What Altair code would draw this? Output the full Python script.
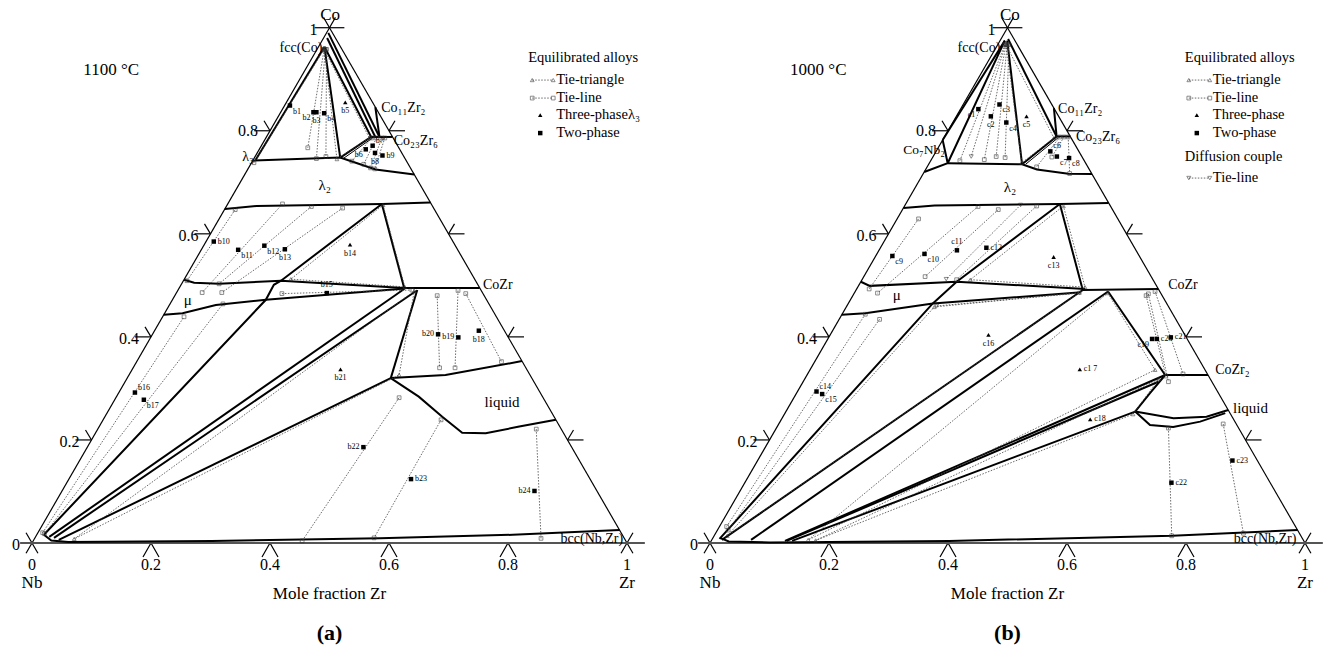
import math
import altair as alt
import pandas as pd

H = math.sqrt(3) / 2
PX = 1 / 595.0                      # one screen pixel in triangle-side units
OFFSET = {"a": 0.0, "b": 678 / 595}  # horizontal shift of each panel
X_DOMAIN = [-32 / 595, (1324 - 32) / 595]
Y_DOMAIN = [-102 / 595, 543 / 595]
FONT = "Liberation Serif"

# ---------------- panel (a) 1100 °C : compositions (x_Zr, x_Co) ----------------
A_BOUNDS = {
    "fcc_l3": [(0.010, 0.963), (0.004, 0.742)],
    "fcc_p": [(0.010, 0.963), (0.144, 0.748)],
    "fcc_c23a": [(0.010, 0.963), (0.176, 0.788)],
    "fcc_c23b": [(0.006, 0.980), (0.183, 0.788)],
    "fcc_c23c": [(0.003, 0.990), (0.190, 0.788)],
    "co11zr2": [(0.154, 0.846), (0.190, 0.788)],
    "co23zr6": [(0.176, 0.788), (0.212, 0.788)],
    "p_c23": [(0.144, 0.748), (0.176, 0.788)],
    "l2_top": [(0.0, 0.742), (0.144, 0.748), (0.175, 0.738), (0.215, 0.725), (0.285, 0.715)],
    "l2_bot": [(0.0, 0.648), (0.05, 0.654), (0.259, 0.658), (0.339, 0.661)],
    "mu_top": [(0.0, 0.511), (0.02, 0.505), (0.063, 0.503), (0.164, 0.509), (0.378, 0.495)],
    "mu_bot": [(0.0, 0.443), (0.03, 0.446), (0.078, 0.462), (0.157, 0.472), (0.380, 0.494)],
    "tri_r": [(0.259, 0.658), (0.378, 0.495)],
    "mu_left": [(0.259, 0.658), (0.164, 0.509), (0.156, 0.501), (0.157, 0.472), (0.012, 0.016)],
    "cozr": [(0.378, 0.495), (0.505, 0.495)],
    "nb1": [(0.023, 0.012), (0.379, 0.493)],
    "nb2": [(0.032, 0.010), (0.401, 0.489)],
    "cozr_liq": [(0.402, 0.491), (0.443, 0.320)],
    "liq_nb": [(0.443, 0.320), (0.042, 0.006)],
    "liq_top": [(0.443, 0.320), (0.532, 0.326), (0.647, 0.353)],
    "liq_bot": [(0.443, 0.320), (0.508, 0.284), (0.567, 0.245), (0.616, 0.214),
                (0.656, 0.213), (0.706, 0.226), (0.761, 0.239)],
    "bcc": [(0.012, 0.016), (0.03, 0.005), (0.06, 0.002), (0.3, 0.004),
            (0.58, 0.009), (0.8, 0.016), (0.975, 0.025)],
}
A_THIN = {"p_c23b": [(0.150, 0.746), (0.180, 0.787)]}
A_TIES = {
    "l3": [(0.012, 0.958), (0.004, 0.738)],
    "b2": [(0.012, 0.958), (0.080, 0.767)],
    "b3": [(0.014, 0.958), (0.105, 0.746)],
    "b4": [(0.016, 0.958), (0.119, 0.750)],
    "b6": [(0.178, 0.786), (0.167, 0.741)],
    "b7": [(0.186, 0.786), (0.190, 0.735)],
    "b8": [(0.195, 0.786), (0.205, 0.728)],
    "b9": [(0.200, 0.786), (0.213, 0.726)],
    "b10": [(0.018, 0.647), (0.006, 0.509)],
    "b11": [(0.092, 0.658), (0.043, 0.486)],
    "b12": [(0.143, 0.653), (0.063, 0.503)],
    "b13": [(0.197, 0.650), (0.076, 0.486)],
    "b15": [(0.178, 0.484), (0.393, 0.491)],
    "b16": [(0.008, 0.020), (0.036, 0.439)],
    "b17": [(0.012, 0.018), (0.089, 0.464)],
    "b18": [(0.487, 0.484), (0.613, 0.352)],
    "b19": [(0.471, 0.490), (0.541, 0.340)],
    "b20": [(0.441, 0.480), (0.515, 0.340)],
    "b22": [(0.476, 0.282), (0.452, 0.004)],
    "b23": [(0.568, 0.239), (0.570, 0.010)],
    "b24": [(0.737, 0.221), (0.851, 0.009)],
}
A_TRIS = {
    "b5": [(0.012, 0.958), (0.140, 0.745), (0.174, 0.786)],
    "b14": [(0.179, 0.512), (0.378, 0.497), (0.262, 0.656)],
    "b21": [(0.067, 0.008), (0.398, 0.489), (0.454, 0.326)],
}
A_DIFF = {}
A_TWO = {"b1": (0.009, 0.849), "b2": (0.055, 0.836), "b3": (0.060, 0.836), "b4": (0.074, 0.834),
         "b6": (0.179, 0.764), "b7": (0.187, 0.771), "b8": (0.198, 0.757), "b9": (0.213, 0.752),
         "b10": (0.013, 0.585), "b11": (0.062, 0.569), "b12": (0.102, 0.577), "b13": (0.140, 0.570),
         "b15": (0.253, 0.485), "b16": (0.027, 0.292), "b17": (0.049, 0.278), "b18": (0.545, 0.412),
         "b19": (0.517, 0.399), "b20": (0.480, 0.405), "b22": (0.464, 0.186), "b23": (0.575, 0.124),
         "b24": (0.794, 0.101)}
A_THREE = {"b5": (0.099, 0.855), "b14": (0.245, 0.579), "b21": (0.350, 0.337)}
A_LABEL_SIDE = {"b1": "rb", "b2": "lb", "b3": "b", "b4": "rb", "b5": "b", "b6": "lb", "b7": "ru",
                "b8": "b", "b9": "r", "b10": "r", "b11": "rb", "b12": "rb", "b13": "b", "b14": "b",
                "b15": "u", "b16": "ru", "b17": "rb", "b18": "b", "b19": "l", "b20": "l", "b21": "b",
                "b22": "l", "b23": "r", "b24": "l"}

# ---------------- panel (b) 1000 °C ----------------
B_BOUNDS = {
    "fcc_cn1": [(0.008, 0.975), (0.0, 0.782)],
    "fcc_cn2": [(0.008, 0.975), (0.031, 0.737)],
    "co7nb2": [(0.0, 0.782), (0.031, 0.737), (0.0, 0.720)],
    "fcc_l2": [(0.012, 0.975), (0.157, 0.735)],
    "fcc_c23": [(0.012, 0.978), (0.188, 0.789)],
    "co11zr2": [(0.156, 0.844), (0.188, 0.789)],
    "l2_c23": [(0.157, 0.735), (0.188, 0.789)],
    "co23zr6": [(0.188, 0.789), (0.211, 0.789)],
    "l2_top": [(0.031, 0.737), (0.157, 0.735), (0.187, 0.725), (0.244, 0.7165), (0.284, 0.716)],
    "l2_bot": [(0.0, 0.650), (0.05, 0.655), (0.259, 0.658), (0.340, 0.660)],
    "mu_top": [(0.0, 0.507), (0.019, 0.499), (0.161, 0.507), (0.384, 0.493)],
    "mu_bot": [(0.0, 0.443), (0.038, 0.446), (0.142, 0.465), (0.376, 0.486)],
    "tri_r": [(0.259, 0.658), (0.381, 0.491)],
    "mu_left": [(0.259, 0.658), (0.161, 0.507), (0.142, 0.465), (0.012, 0.008)],
    "cozr": [(0.381, 0.491), (0.507, 0.493)],
    "line_a": [(0.381, 0.491), (0.017, 0.006)],
    "line_b": [(0.425, 0.488), (0.066, 0.006)],
    "cozr_z2": [(0.425, 0.488), (0.602, 0.326)],
    "cozr2": [(0.602, 0.326), (0.674, 0.326)],
    "z2_liq": [(0.602, 0.326), (0.594, 0.291), (0.587, 0.255)],
    "line_c": [(0.602, 0.326), (0.124, 0.004)],
    "line_c2": [(0.597, 0.313), (0.127, 0.004)],
    "line_d": [(0.587, 0.255), (0.136, 0.004)],
    "liq_top": [(0.587, 0.255), (0.658, 0.242), (0.712, 0.245), (0.742, 0.258)],
    "liq_bot": [(0.587, 0.255), (0.625, 0.229), (0.666, 0.225), (0.706, 0.2355), (0.740, 0.252)],
    "bcc": [(0.012, 0.010), (0.03, 0.003), (0.1, 0.001), (0.4, 0.004), (0.77, 0.014), (0.975, 0.025)],
}
B_THIN = {"l2_c23b": [(0.163, 0.735), (0.192, 0.787)]}
B_TIES = {
    "c1": [(0.012, 0.967), (0.049, 0.742)],
    "c2": [(0.014, 0.967), (0.089, 0.744)],
    "c3": [(0.016, 0.967), (0.106, 0.750)],
    "c4": [(0.019, 0.967), (0.122, 0.748)],
    "c6": [(0.194, 0.788), (0.184, 0.730)],
    "c7": [(0.201, 0.788), (0.200, 0.749)],
    "c8": [(0.208, 0.788), (0.246, 0.717)],
    "c9": [(0.036, 0.629), (0.021, 0.493)],
    "c10": [(0.124, 0.653), (0.039, 0.485)],
    "c11": [(0.161, 0.647), (0.103, 0.517)],
    "c12": [(0.222, 0.654), (0.159, 0.511)],
    "c14": [(0.012, 0.032), (0.039, 0.444)],
    "c15": [(0.018, 0.025), (0.068, 0.434)],
    "c19": [(0.493, 0.480), (0.604, 0.324)],
    "c20": [(0.495, 0.4835), (0.614, 0.313)],
    "c21": [(0.504, 0.488), (0.631, 0.328)],
    "c22": [(0.659, 0.223), (0.769, 0.014)],
    "c23": [(0.747, 0.231), (0.887, 0.019)],
}
B_TRIS = {
    "c5": [(0.014, 0.967), (0.155, 0.738), (0.185, 0.786)],
    "c13": [(0.182, 0.511), (0.382, 0.4965), (0.267, 0.654)],
    "c16": [(0.148, 0.458), (0.378, 0.486), (0.022, 0.014)],
    "c17": [(0.426, 0.485), (0.580, 0.336), (0.162, 0.006)],
    "c18": [(0.595, 0.318), (0.586, 0.250), (0.175, 0.005)],
}
B_DIFF = {
    "d1": [(0.013, 0.967), (0.064, 0.750)],
    "d2": [(0.194, 0.656), (0.141, 0.512)],
    "d3": [(0.151, 0.460), (0.379, 0.485)],
}
B_TWO = {"c1": (0.030, 0.842), "c2": (0.058, 0.828), "c3": (0.061, 0.851), "c4": (0.090, 0.816),
         "c6": (0.192, 0.760), "c7": (0.208, 0.750), "c8": (0.230, 0.747), "c9": (0.028, 0.557),
         "c10": (0.080, 0.561), "c11": (0.131, 0.568), "c12": (0.178, 0.573), "c14": (0.032, 0.294),
         "c15": (0.044, 0.289), "c19": (0.545, 0.396), "c20": (0.553, 0.396), "c21": (0.575, 0.399),
         "c22": (0.717, 0.117), "c23": (0.798, 0.160)}
B_THREE = {"c5": (0.118, 0.828), "c13": (0.300, 0.555), "c16": (0.266, 0.404),
           "c1 7": (0.453, 0.337), "c18": (0.519, 0.240)}
B_LABEL_SIDE = {"c1": "lb", "c2": "b", "c3": "rb", "c4": "rb", "c5": "b", "c6": "ru", "c7": "rb",
                "c8": "rb", "c9": "rb", "c10": "rb", "c11": "u", "c12": "r", "c13": "b", "c14": "ru",
                "c15": "rb", "c16": "b", "c1 7": "r", "c18": "r", "c19": "lb", "c20": "r", "c21": "r",
                "c22": "r", "c23": "r"}

# phase / annotation labels: (text, X, Y, size, align) in panel side units
A_NOTES = [("Co", 0.501, 0.887, 17, "center"), ("fcc(Co)", 0.488, 0.832, 14, "right"),
           ("λ₃", 0.373, 0.649, 14, "right"), ("Co₁₁Zr₂", 0.587, 0.731, 14, "left"),
           ("Co₂₃Zr₆", 0.608, 0.676, 14, "left"), ("λ₂", 0.492, 0.602, 15, "center"),
           ("μ", 0.262, 0.408, 15, "center"), ("CoZr", 0.758, 0.434, 14, "left"),
           ("liquid", 0.790, 0.237, 15, "center"), ("bcc(Nb,Zr)", 0.941, 0.006, 14, "center"),
           ("1100 °C", 0.133, 0.795, 17, "center")]
B_NOTES = [("Co", 0.504, 0.887, 17, "center"), ("fcc(Co)", 0.488, 0.832, 14, "right"),
           ("Co₇Nb₂", 0.395, 0.661, 13.5, "right"), ("Co₁₁Zr₂", 0.585, 0.729, 14, "left"),
           ("Co₂₃Zr₆", 0.615, 0.682, 14, "left"), ("λ₂", 0.504, 0.598, 15, "center"),
           ("μ", 0.314, 0.417, 15, "center"), ("CoZr", 0.770, 0.434, 14, "left"),
           ("CoZr₂", 0.849, 0.291, 14, "left"), ("liquid", 0.879, 0.227, 15, "left"),
           ("bcc(Nb,Zr)", 0.933, 0.007, 14, "center"), ("1000 °C", 0.182, 0.795, 17, "center")]
A_LEGEND = {"x0": 0.834, "items": ["Tie-triangle", "Tie-line", "Three-phaseλ₃", "Two-phase"]}
B_LEGEND = {"x0": 0.798, "items": ["Tie-triangle", "Tie-line", "Three-phase", "Two-phase",
                                   "Diffusion couple", "Tie-line"]}
TICKS = [0.2, 0.4, 0.6, 0.8]
TICK_TEXT = ["0", "0.2", "0.4", "0.6", "0.8", "1"]

# ---------------- build tables ----------------
lines, pts, txt = [], [], []


def xy(panel, z, c):
    return OFFSET[panel] + z + c / 2, c * H


def add_line(panel, name, pts_zc, kind, raw=False):
    for i, (a, b) in enumerate(pts_zc):
        x, y = (OFFSET[panel] + a, b) if raw else xy(panel, a, b)
        lines.append(dict(x=x, y=y, key=f"{panel}-{kind}-{name}", ord=i, kind=kind))


def add_pt(panel, z, c, shape, raw=False):
    x, y = (OFFSET[panel] + z, c) if raw else xy(panel, z, c)
    pts.append(dict(x=x, y=y, shape=shape))


def add_txt(panel, text, X, Y, fs, align, weight="normal"):
    txt.append(dict(x=OFFSET[panel] + X, y=Y, text=text, fs=fs, align=align, weight=weight))


SIDE_OFF = {"rb": (3, 6, "left"), "r": (4, 0, "left"), "ru": (3, -5, "left"),
            "lb": (-3, 6, "right"), "l": (-4, 0, "right"), "b": (0, 9, "center"),
            "u": (0, -8, "center")}

for panel, bounds, thin, ties, tris, diffs, two, three, sides, notes, legend, cap in [
    ("a", A_BOUNDS, A_THIN, A_TIES, A_TRIS, A_DIFF, A_TWO, A_THREE, A_LABEL_SIDE, A_NOTES, A_LEGEND, "(a)"),
    ("b", B_BOUNDS, B_THIN, B_TIES, B_TRIS, B_DIFF, B_TWO, B_THREE, B_LABEL_SIDE, B_NOTES, B_LEGEND, "(b)"),
]:
    # frame
    add_line(panel, "left", [(0, 0), (0, 1)], "edge")
    add_line(panel, "right", [(1, 0), (0, 1)], "edge")
    add_line(panel, "base", [(-0.02, 0), (1.03, 0)], "axis", raw=True)
    d = 0.02
    add_line(panel, "apx_h", [(0.5 - 0.025, H), (0.5 + 0.025, H)], "edge", raw=True)
    add_line(panel, "apx_l", [(0.5, H), (0.5 + d * 0.5, H + d * H)], "edge", raw=True)
    add_line(panel, "apx_r", [(0.5, H), (0.5 - d * 0.5, H + d * H)], "edge", raw=True)
    add_line(panel, "nb_x1", [(-d * 0.5, -d * H), (0, 0)], "edge", raw=True)
    add_line(panel, "nb_x2", [(-d * 0.5, d * H), (d * 0.5, -d * H)], "edge", raw=True)
    add_line(panel, "zr_x1", [(1 + d * 0.5, -d * H), (1, 0)], "edge", raw=True)
    add_line(panel, "zr_x2", [(1 + d * 0.5, d * H), (1 - d * 0.5, -d * H)], "edge", raw=True)
    for t in TICKS:
        add_line(panel, f"bt{t}", [(t - 8 * PX, -14 * PX), (t, 0), (t + 8 * PX, -14 * PX)], "edge", raw=True)
        lx, ly = t / 2, t * H
        add_line(panel, f"lt{t}", [(lx - 16 * PX, ly), (lx, ly)], "edge", raw=True)
        add_line(panel, f"lt2{t}", [(lx - 6 * PX, ly + 10 * PX), (lx, ly)], "edge", raw=True)
        rx, ry = 1 - t / 2, t * H
        add_line(panel, f"rt{t}", [(rx, ry), (rx + 16 * PX, ry)], "edge", raw=True)
        add_line(panel, f"rt2{t}", [(rx, ry), (rx + 6 * PX, ry + 10 * PX)], "edge", raw=True)
    for i, lab in enumerate(TICK_TEXT):
        v = i * 0.2
        add_txt(panel, lab, v, -22 * PX, 16, "center")
        lift = {"1": -2 * PX, "0.8": 0 * PX}.get(lab, -2 * PX)
        add_txt(panel, lab, v / 2 - 12 * PX, v * H + lift, 16, "right")
    add_txt(panel, "Nb", 0, -40 * PX, 17, "center")
    add_txt(panel, "Zr", 1, -40 * PX, 17, "center")
    add_txt(panel, "Mole fraction Zr", 0.5, -51 * PX, 17, "center")
    add_txt(panel, cap, 0.5, -90 * PX, 22, "center", "bold")

    for name, p in bounds.items():
        add_line(panel, name, p, "bound")
    for name, p in thin.items():
        add_line(panel, name, p, "thin")
    for name, p in ties.items():
        add_line(panel, name, p, "tie")
        for z, c in (p[0], p[-1]):
            add_pt(panel, z, c, "sq_open")
    for name, p in tris.items():
        add_line(panel, name, p + [p[0]], "tie")
        for z, c in p:
            add_pt(panel, z, c, "tri_open")
    for name, p in diffs.items():
        add_line(panel, name, p, "tie")
        for z, c in (p[0], p[-1]):
            add_pt(panel, z, c, "dtri_open")
    for group, shape in ((two, "sq_fill"), (three, "tri_fill")):
        for name, (z, c) in group.items():
            add_pt(panel, z, c, shape)
            dx, dy, al = SIDE_OFF[sides[name]]
            x, y = xy(panel, z, c)
            add_txt(panel, name, x - OFFSET[panel] + dx * PX, y - dy * PX, 8, al)
    for text, X, Y, fs, al in notes:
        add_txt(panel, text, X, Y, fs, al)

    # legend
    x0 = legend["x0"]
    top = 0.815
    add_txt(panel, "Equilibrated alloys", x0, top, 14.5, "left")
    steps = [22, 40, 57, 75, 99, 120]
    for k, item in enumerate(legend["items"]):
        yy = top - steps[k] * PX
        sym_x0, sym_x1, tx = x0 + 4 * PX, x0 + 25 * PX, x0 + 28 * PX
        if item == "Diffusion couple":
            add_txt(panel, item, x0, yy, 14.5, "left")
            continue
        add_txt(panel, item, tx, yy, 14.5, "left")
        if item in ("Tie-triangle", "Tie-line"):
            add_line(panel, f"leg{k}", [(sym_x0, yy), (sym_x1, yy)], "tie", raw=True)
            shape = "tri_open" if item == "Tie-triangle" else "sq_open"
            if k == 5:
                shape = "dtri_open"
            add_pt(panel, sym_x0, yy, shape, raw=True)
            add_pt(panel, sym_x1, yy, shape, raw=True)
        elif item.startswith("Three"):
            add_pt(panel, x0 + 12 * PX, yy, "tri_fill", raw=True)
        else:
            add_pt(panel, x0 + 12 * PX, yy, "sq_fill", raw=True)

L = pd.DataFrame(lines)
P = pd.DataFrame(pts)
T = pd.DataFrame(txt)

X = alt.X("x:Q", scale=alt.Scale(domain=X_DOMAIN, nice=False, zero=False), axis=None)
Y = alt.Y("y:Q", scale=alt.Scale(domain=Y_DOMAIN, nice=False, zero=False), axis=None)

LINE_STYLE = {
    "edge": dict(strokeWidth=1.2, color="black"),
    "axis": dict(strokeWidth=2.2, color="#555555"),
    "bound": dict(strokeWidth=2.0, color="black"),
    "thin": dict(strokeWidth=1.0, color="black"),
    "tie": dict(strokeWidth=0.8, color="#444444", strokeDash=[1.5, 1.5]),
}
layers = []
for kind, style in LINE_STYLE.items():
    sub = L[L.kind == kind]
    layers.append(alt.Chart(sub).mark_line(**style).encode(
        x=X, y=Y, detail="key:N", order=alt.Order("ord:Q")))

PT_STYLE = {
    "sq_open": dict(shape="square", filled=False, size=14, strokeWidth=0.8, color="#333333"),
    "tri_open": dict(shape="triangle-up", filled=False, size=14, strokeWidth=0.8, color="#333333"),
    "dtri_open": dict(shape="triangle-down", filled=False, size=16, strokeWidth=0.8, color="#333333"),
    "sq_fill": dict(shape="square", filled=True, size=20, color="black", opacity=1),
    "tri_fill": dict(shape="triangle-up", filled=True, size=20, color="black", opacity=1),
}
for shape, style in PT_STYLE.items():
    sub = P[P["shape"] == shape]
    layers.append(alt.Chart(sub).mark_point(**style).encode(x=X, y=Y))

for (al, wt), sub in T.groupby(["align", "weight"]):
    layers.append(alt.Chart(sub).mark_text(align=al, baseline="middle", font=FONT,
                                           fontWeight=wt, color="black").encode(
        x=X, y=Y, text="text:N", size=alt.Size("fs:Q", scale=None)))

chart = alt.layer(*layers).properties(
    width=1324, height=645, padding=0,
    autosize=alt.AutoSizeParams(type="none"), background="white",
).configure_view(stroke=None)

chart.save("out.html", embed_options={"renderer": "svg", "actions": False})
